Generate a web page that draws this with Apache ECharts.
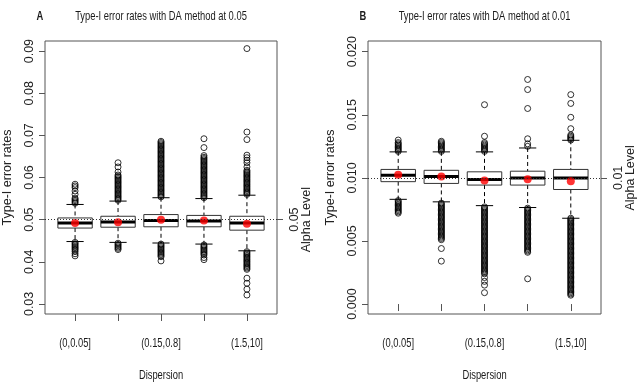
<!DOCTYPE html>
<html lang="en">

<head>
    <meta charset="UTF-8">
    <title>Type-I error rates with DA method</title>
    <script src="https://cdn.jsdelivr.net/npm/echarts@6.0.0/dist/echarts.min.js"></script>
    <style>
        html, body { margin: 0; padding: 0; background: #fff; }
        #chart { width: 638px; height: 387px; }
    </style>
</head>

<body>
    <div id="chart"></div>
    <script>
        // categories of dispersion (only 1st, 3rd, 5th label fit in the original)
        var categories = ['(0,0.05]', '(0.05,0.15]', '(0.15,0.8]', '(0.8,1.5]', '(1.5,10]'];
        var shownLabels = [1, 3, 5];

        // panel A : alpha 0.05
        var alphaA = 0.05;
        var ticksA = [0.03, 0.04, 0.05, 0.06, 0.07, 0.08, 0.09];
        var lowA = [0.0448, 0.0446, 0.04445, 0.0442, 0.0426];
        var q1A = [0.0480, 0.0482, 0.0483, 0.0483, 0.0475];
        var medA = [0.0492, 0.04945, 0.0498, 0.0497, 0.0492];
        var q3A = [0.0504, 0.0508, 0.0512, 0.0510, 0.0508];
        var highA = [0.0536, 0.0544, 0.0552, 0.0550, 0.0558];
        var meanA = [0.0492, 0.0494, 0.0500, 0.0498, 0.0490];
        var outA = [
            [0.0539, 0.0542, 0.0545, 0.0548, 0.0551, 0.0560, 0.0568, 0.0576, 0.0580, 0.0584,
             0.0446, 0.0443, 0.0440, 0.0437, 0.0434, 0.0431, 0.0428, 0.0424, 0.0419, 0.0414],
            [0.0546, 0.0549, 0.0552, 0.0555, 0.0558, 0.0561, 0.0564, 0.0567, 0.0570, 0.0573, 0.0576, 0.0579,
             0.0582, 0.0585, 0.0588, 0.0591, 0.0594, 0.0597, 0.0600, 0.0603, 0.0606, 0.0613, 0.0625, 0.0635,
             0.0444, 0.0441, 0.0438, 0.0435, 0.0432, 0.0429],
            [0.0554, 0.0557, 0.0560, 0.0563, 0.0566, 0.0569, 0.0572, 0.0575, 0.0578, 0.0581, 0.0584, 0.0587,
             0.0590, 0.0593, 0.0596, 0.0599, 0.0602, 0.0605, 0.0608, 0.0611, 0.0614, 0.0617, 0.0620, 0.0623,
             0.0626, 0.0629, 0.0632, 0.0635, 0.0638, 0.0641, 0.0644, 0.0647, 0.0650, 0.0653, 0.0656, 0.0659,
             0.0662, 0.0665, 0.0668, 0.0671, 0.0674, 0.0677, 0.0680, 0.0683, 0.0686,
             0.0442, 0.0439, 0.0436, 0.0433, 0.0430, 0.0427, 0.0424, 0.0421, 0.0418, 0.0415, 0.0412, 0.0402],
            [0.0552, 0.0555, 0.0558, 0.0561, 0.0564, 0.0567, 0.0570, 0.0573, 0.0576, 0.0579, 0.0582, 0.0585,
             0.0588, 0.0591, 0.0594, 0.0597, 0.0600, 0.0603, 0.0606, 0.0609, 0.0612, 0.0615, 0.0618, 0.0621,
             0.0624, 0.0627, 0.0630, 0.0633, 0.0636, 0.0639, 0.0642, 0.0645, 0.0648, 0.0652, 0.0671, 0.0692,
             0.0440, 0.0437, 0.0434, 0.0431, 0.0428, 0.0425, 0.0422, 0.0419, 0.0416, 0.0410, 0.0405],
            [0.0560, 0.0563, 0.0566, 0.0569, 0.0572, 0.0575, 0.0578, 0.0581, 0.0584, 0.0587, 0.0590, 0.0593,
             0.0596, 0.0599, 0.0602, 0.0605, 0.0608, 0.0611, 0.0614, 0.0617, 0.0625, 0.0635, 0.0641, 0.0647,
             0.0653, 0.0690, 0.0708, 0.0906,
             0.0424, 0.0421, 0.0418, 0.0415, 0.0412, 0.0409, 0.0406, 0.0403, 0.0400, 0.0397, 0.0394, 0.0391,
             0.0388, 0.0385, 0.0382, 0.0361, 0.0349, 0.0335, 0.0321]
        ];

        // panel B : alpha 0.01
        var alphaB = 0.01;
        var ticksB = [0, 0.005, 0.01, 0.015, 0.02];
        var lowB = [0.0083, 0.0081, 0.0078, 0.00765, 0.0068];
        var q1B = [0.0097, 0.00956, 0.00943, 0.00943, 0.00908];
        var medB = [0.0102, 0.0101, 0.00987, 0.0100, 0.0100];
        var q3B = [0.01067, 0.0106, 0.01048, 0.01053, 0.01067];
        var highB = [0.01206, 0.01206, 0.01206, 0.01237, 0.01298];
        var meanB = [0.01024, 0.0101, 0.0098, 0.0099, 0.00974];
        var outB = [
            [0.0121, 0.0122, 0.0123, 0.0124, 0.0125, 0.0126, 0.0127, 0.0128, 0.0130,
             0.0082, 0.0081, 0.0080, 0.0079, 0.0078, 0.0077, 0.0076, 0.0075, 0.0074, 0.0073, 0.0072],
            [0.0121, 0.0122, 0.0123, 0.0124, 0.0125, 0.0126, 0.0127, 0.0128, 0.0129,
             0.0080, 0.0079, 0.0078, 0.0077, 0.0076, 0.0075, 0.0074, 0.0073, 0.0072, 0.0071, 0.0070, 0.0069,
             0.0068, 0.0067, 0.0066, 0.0065, 0.0064, 0.0063, 0.0062, 0.0061, 0.0060, 0.0059, 0.0058, 0.0057,
             0.0056, 0.0055, 0.0054, 0.0053, 0.0052, 0.0051, 0.0044, 0.0034],
            [0.0121, 0.0122, 0.0123, 0.0124, 0.0125, 0.0126, 0.0127, 0.0128, 0.0133, 0.0158,
             0.0077, 0.0076, 0.0075, 0.0074, 0.0073, 0.0072, 0.0071, 0.0070, 0.0069, 0.0068, 0.0067, 0.0066,
             0.0065, 0.0064, 0.0063, 0.0062, 0.0061, 0.0060, 0.0059, 0.0058, 0.0057, 0.0056, 0.0055, 0.0054,
             0.0053, 0.0052, 0.0051, 0.0050, 0.0049, 0.0048, 0.0047, 0.0046, 0.0045, 0.0044, 0.0043, 0.0042,
             0.0041, 0.0040, 0.0039, 0.0038, 0.0037, 0.0036, 0.0035, 0.0034, 0.0033, 0.0032, 0.0031, 0.0030,
             0.0029, 0.0028, 0.0027, 0.0026, 0.0025, 0.0024, 0.0021, 0.0018, 0.0015, 0.0009],
            [0.0125, 0.0127, 0.0131, 0.0155, 0.0170, 0.0178,
             0.0076, 0.0075, 0.0074, 0.0073, 0.0072, 0.0071, 0.0070, 0.0069, 0.0068, 0.0067, 0.0066, 0.0065,
             0.0064, 0.0063, 0.0062, 0.0061, 0.0060, 0.0059, 0.0058, 0.0057, 0.0056, 0.0055, 0.0054, 0.0053,
             0.0052, 0.0051, 0.0050, 0.0049, 0.0048, 0.0047, 0.0046, 0.0045, 0.0044, 0.0043, 0.0042, 0.0041,
             0.0020],
            [0.0130, 0.0131, 0.0132, 0.0133, 0.0134, 0.0139, 0.0148, 0.0159, 0.0166,
             0.0068, 0.0067, 0.0066, 0.0065, 0.0064, 0.0063, 0.0062, 0.0061, 0.0060, 0.0059, 0.0058, 0.0057,
             0.0056, 0.0055, 0.0054, 0.0053, 0.0052, 0.0051, 0.0050, 0.0049, 0.0048, 0.0047, 0.0046, 0.0045,
             0.0044, 0.0043, 0.0042, 0.0041, 0.0040, 0.0039, 0.0038, 0.0037, 0.0036, 0.0035, 0.0034, 0.0033,
             0.0032, 0.0031, 0.0030, 0.0029, 0.0028, 0.0027, 0.0026, 0.0025, 0.0024, 0.0023, 0.0022, 0.0021,
             0.0020, 0.0019, 0.0018, 0.0017, 0.0016, 0.0015, 0.0014, 0.0013, 0.0012, 0.0011, 0.0010, 0.0009,
             0.0008, 0.0007]
        ];

        var plain = '"Liberation Sans", Arial, sans-serif';
        // no narrow face installed: squeeze Liberation Sans horizontally instead
        var squeeze = 0.72;

        // build [x, low, q1, median, q3, high] rows
        function boxRows(low, q1, med, q3, high) {
            var rows = [];
            for (var i = 0; i < low.length; i++) {
                rows.push([i + 1, low[i], q1[i], med[i], q3[i], high[i]]);
            }
            return rows;
        }
        function outlierRows(out) {
            var rows = [];
            for (var i = 0; i < out.length; i++) {
                for (var j = 0; j < out[i].length; j++) {
                    rows.push([i + 1, out[i][j]]);
                }
            }
            return rows;
        }
        function meanRows(mean) {
            return mean.map(function (v, i) { return [i + 1, v]; });
        }

        // R style box: dashed whiskers, staples, thick median
        function renderBox(params, api) {
            var x = api.value(0);
            var pLo = api.coord([x, api.value(1)]);
            var pQ1 = api.coord([x, api.value(2)]);
            var pMed = api.coord([x, api.value(3)]);
            var pQ3 = api.coord([x, api.value(4)]);
            var pHi = api.coord([x, api.value(5)]);
            var w = api.size([0.8, 0])[0];
            var cap = api.size([0.4, 0])[0];
            var cx = pMed[0];
            var thin = { stroke: '#000', lineWidth: 1 };
            var dash = { stroke: '#000', lineWidth: 1, lineDash: [4, 3] };
            return {
                type: 'group',
                children: [
                    { type: 'line', shape: { x1: cx, y1: pHi[1], x2: cx, y2: pQ3[1] }, style: dash },
                    { type: 'line', shape: { x1: cx, y1: pQ1[1], x2: cx, y2: pLo[1] }, style: dash },
                    { type: 'line', shape: { x1: cx - cap / 2, y1: pHi[1], x2: cx + cap / 2, y2: pHi[1] }, style: thin },
                    { type: 'line', shape: { x1: cx - cap / 2, y1: pLo[1], x2: cx + cap / 2, y2: pLo[1] }, style: thin },
                    {
                        type: 'rect',
                        shape: { x: cx - w / 2, y: pQ3[1], width: w, height: pQ1[1] - pQ3[1] },
                        style: { fill: '#fff', stroke: '#333', lineWidth: 1 }
                    },
                    { type: 'line', shape: { x1: cx - w / 2, y1: pMed[1], x2: cx + w / 2, y2: pMed[1] }, style: { stroke: '#000', lineWidth: 3 } }
                ]
            };
        }

        function xAxisFor(gridIndex) {
            return {
                type: 'value',
                gridIndex: gridIndex,
                min: 0.3,
                max: 5.7,
                axisLine: { show: false },
                splitLine: { show: false },
                axisTick: { show: true, length: 7, customValues: [1, 2, 3, 4, 5], lineStyle: { color: '#555' } },
                axisLabel: { show: false }
            };
        }

        function leftAxis(gridIndex, min, max, ticks, digits) {
            return {
                type: 'value',
                gridIndex: gridIndex,
                min: min,
                max: max,
                name: 'Type-I error rates',
                nameLocation: 'middle',
                nameRotate: 90,
                nameGap: 31,
                nameTextStyle: { fontFamily: plain, fontSize: 12.5, color: '#222' },
                axisLine: { show: false },
                splitLine: { show: false },
                axisTick: { show: true, length: 6, customValues: ticks, lineStyle: { color: '#555' } },
                axisLabel: {
                    customValues: ticks,
                    rotate: 90,
                    margin: 9,
                    fontFamily: plain,
                    fontSize: 12.5,
                    color: '#222',
                    formatter: function (v) { return v.toFixed(digits); }
                }
            };
        }

        function rightAxis(gridIndex, min, max, alpha, txt) {
            return {
                type: 'value',
                gridIndex: gridIndex,
                position: 'right',
                min: min,
                max: max,
                axisLine: { show: false },
                splitLine: { show: false },
                axisTick: { show: true, length: 6, customValues: [alpha], lineStyle: { color: '#555' } },
                axisLabel: {
                    customValues: [alpha],
                    rotate: 90,
                    margin: 12,
                    fontFamily: plain,
                    fontSize: 12.5,
                    lineHeight: 12,
                    color: '#222',
                    formatter: function () { return txt + '\nAlpha Level'; }
                }
            };
        }

        function panelSeries(xi, yi, low, q1, med, q3, high, mean, out, alpha) {
            return [
                {
                    type: 'custom',
                    xAxisIndex: xi,
                    yAxisIndex: yi,
                    renderItem: renderBox,
                    encode: { x: 0, y: [1, 2, 3, 4, 5] },
                    data: boxRows(low, q1, med, q3, high),
                    z: 2,
                    markLine: {
                        silent: true,
                        symbol: 'none',
                        label: { show: false },
                        lineStyle: { type: [1, 2], color: '#333', width: 1 },
                        data: [{ yAxis: alpha }]
                    }
                },
                {
                    type: 'scatter',
                    xAxisIndex: xi,
                    yAxisIndex: yi,
                    symbol: 'circle',
                    symbolSize: 6,
                    itemStyle: { color: 'transparent', borderColor: '#000', borderWidth: 1 },
                    data: outlierRows(out),
                    z: 3
                },
                {
                    type: 'scatter',
                    xAxisIndex: xi,
                    yAxisIndex: yi,
                    symbol: 'circle',
                    symbolSize: 8,
                    itemStyle: { color: '#ff0000' },
                    data: meanRows(mean),
                    z: 4
                }
            ];
        }

        var yRangeA = [0.0276, 0.0924];
        var yRangeB = [-0.00079, 0.02085];

        var chart = echarts.init(document.getElementById('chart'), null, { renderer: 'canvas' });
        var option = {
            animation: false,
            backgroundColor: '#fff',
            grid: [
                { left: 44, top: 41, width: 233, height: 273, show: true, borderColor: '#555', borderWidth: 1, backgroundColor: 'transparent' },
                { left: 368, top: 41, width: 233, height: 273, show: true, borderColor: '#555', borderWidth: 1, backgroundColor: 'transparent' }
            ],
            xAxis: [xAxisFor(0), xAxisFor(1)],
            yAxis: [
                leftAxis(0, yRangeA[0], yRangeA[1], ticksA, 2),
                rightAxis(0, yRangeA[0], yRangeA[1], alphaA, '0.05'),
                leftAxis(1, yRangeB[0], yRangeB[1], ticksB, 3),
                rightAxis(1, yRangeB[0], yRangeB[1], alphaB, '0.01')
            ],
            series: [].concat(
                panelSeries(0, 0, lowA, q1A, medA, q3A, highA, meanA, outA, alphaA),
                panelSeries(1, 2, lowB, q1B, medB, q3B, highB, meanB, outB, alphaB)
            )
        };
        chart.setOption(option);

        // narrow texts (titles, category labels, x title) placed from the axes
        function narrowText(txt, x, y, bold) {
            return {
                type: 'text',
                x: x,
                y: y,
                scaleX: squeeze,
                silent: true,
                style: {
                    text: txt,
                    fontFamily: plain,
                    fontSize: 13,
                    fontWeight: bold ? 'bold' : 'normal',
                    fill: '#1a1a1a',
                    align: 'center',
                    verticalAlign: 'middle'
                }
            };
        }

        var panels = [
            { xi: 0, yi: 0, range: yRangeA, letter: 'A', title: 'Type-I error rates with DA method at 0.05' },
            { xi: 1, yi: 2, range: yRangeB, letter: 'B', title: 'Type-I error rates with DA method at 0.01' }
        ];
        var texts = [];
        panels.forEach(function (p) {
            var finder = { xAxisIndex: p.xi, yAxisIndex: p.yi };
            shownLabels.forEach(function (c) {
                var pt = chart.convertToPixel(finder, [c, p.range[0]]);
                texts.push(narrowText(categories[c - 1], pt[0], pt[1] + 29));
            });
            var bottomMid = chart.convertToPixel(finder, [3, p.range[0]]);
            var topLeft = chart.convertToPixel(finder, [0.3, p.range[1]]);
            texts.push(narrowText('Dispersion', bottomMid[0], bottomMid[1] + 61));
            texts.push(narrowText(p.title, bottomMid[0], topLeft[1] - 25));
            texts.push(narrowText(p.letter, topLeft[0] - 5, topLeft[1] - 25, true));
        });
        chart.setOption({ graphic: texts });
    </script>
</body>

</html>
